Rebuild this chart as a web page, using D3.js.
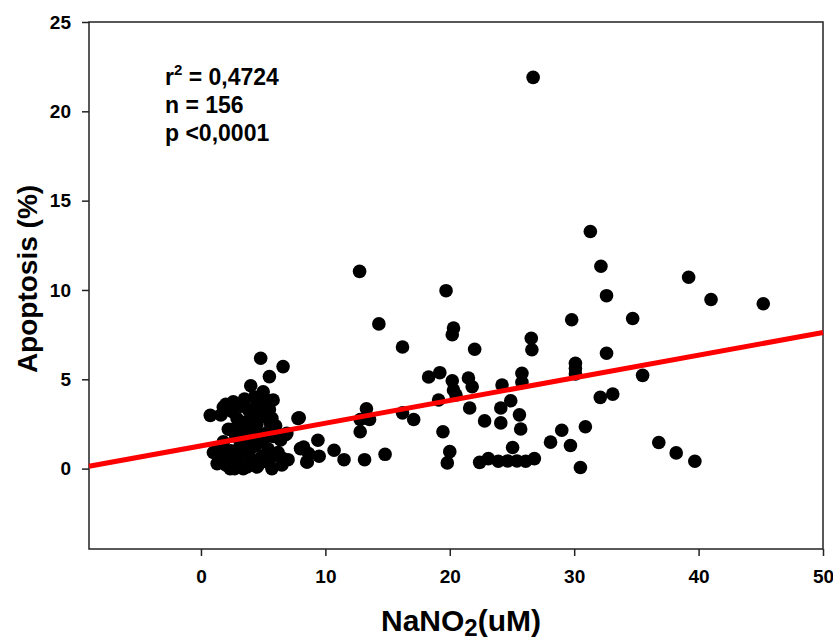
<!DOCTYPE html>
<html>
<head>
<meta charset="utf-8">
<script src="https://cdn.jsdelivr.net/npm/d3@7"></script>
<style>
  body { margin: 0; background: #fff; }
  svg { font-family: "Liberation Sans", Arial, sans-serif; font-weight: bold; }
</style>
</head>
<body>
<svg id="chart"></svg>
<script>
// NaNO2 concentration (uM) vs apoptosis (%)
const nano2 = [
  12.75, 19.7, 14.3, 20.3, 20.2, 16.2, 22.0, 26.55, 26.6, 18.3,
  19.2, 20.2, 21.5, 21.8, 20.3, 20.5, 19.1, 24.2, 25.8, 25.8,
  24.9, 24.1, 21.6, 25.6, 22.8, 24.1, 25.7, 16.2, 17.1, 13.3,
  12.8, 13.55, 12.8, 19.45, 7.9, 9.4, 8.25, 8.65, 9.5, 8.55,
  10.7, 11.5, 13.15, 14.8, 20.0, 19.8, 22.4, 23.1, 23.9, 24.65,
  25.05, 25.4, 26.1, 26.8, 28.1, 29.0,
  31.3, 32.15, 39.2, 32.6, 41.0, 45.2, 29.8, 34.7, 32.6, 30.1,
  30.1, 35.5, 32.1, 33.1, 29.7, 30.9, 30.5, 36.8, 38.2, 39.7,
  26.7, 30.1,
  4.8, 6.6, 5.5, 4.0, 5.0, 5.25, 5.8, 0.75, 1.8, 2.6,
  3.4, 4.0, 5.7, 7.8, 2.35, 6.9, 8.0, 1.3, 1.3, 2.35,
  3.4, 4.5, 5.7, 6.6, 8.5,
  1.5, 1.8, 2.0, 2.2, 2.4, 2.5, 2.6, 2.8, 2.9, 3.0,
  3.1, 3.2, 3.3, 3.4, 3.5, 3.6, 3.7, 3.8, 3.9, 4.0,
  4.1, 4.2, 4.3, 4.4, 4.5, 4.6, 4.7, 4.8, 4.9, 5.0,
  5.1, 5.2, 5.3, 5.4, 5.5, 5.6, 5.8, 6.0, 6.2, 6.4,
  1.6, 2.0, 2.8, 3.5, 2.3, 3.0, 4.3, 1.9, 6.8, 7.0,
  1.0, 2.7, 4.5, 5.6, 6.5
];
const apoptosis = [
  11.04, 9.96, 8.1, 7.87, 7.49, 6.81, 6.68, 7.3, 6.65, 5.13,
  5.37, 4.92, 5.07, 4.58, 4.4, 4.12, 3.84, 4.68, 5.34, 4.83,
  3.8, 3.39, 3.39, 3.01, 2.67, 2.56, 2.22, 3.12, 2.75, 3.35,
  2.75, 2.75, 2.06, 2.06, 2.85, 1.59, 1.21, 0.84, 0.69, 0.37,
  1.03, 0.5, 0.5, 0.8, 0.95, 0.32, 0.35, 0.56, 0.41, 0.43,
  1.18, 0.43, 0.41, 0.56, 1.48, 2.15,
  13.27, 11.33, 10.71, 9.68, 9.47, 9.23, 8.33, 8.4, 6.46, 5.9,
  5.3, 5.22, 3.99, 4.17, 1.29, 2.34, 0.06, 1.46, 0.88, 0.41,
  21.9, 5.6,
  6.18, 5.71, 5.15, 4.64, 4.3, 3.84, 3.84, 2.98, 3.43, 3.74,
  3.65, 3.1, 2.81, 2.81, 2.19, 1.97, 1.12, 1.03, 0.28, 0.0,
  0.0, 0.09, 0.0, 0.56, 0.37,
  0.5, 1.5, 0.2, 2.2, 1.0, 3.2, 0.6, 1.8, 2.8, 0.3,
  1.2, 3.5, 2.0, 0.8, 1.6, 2.6, 0.1, 3.3, 1.0, 2.2,
  0.5, 1.8, 3.0, 1.3, 2.5, 0.2, 1.9, 3.5, 0.7, 1.5,
  2.9, 0.4, 2.0, 1.1, 3.3, 0.6, 1.8, 2.4, 0.9, 1.6,
  3.0, 3.6, 3.6, 3.9, 0.1, 2.4, 4.0, 0.9, 1.9, 0.5,
  0.9, 0.0, 3.6, 2.5, 0.2
];
// regression line end points as drawn
const fitX = [-9, 50];
const fitY = [0.13, 7.62];
const xTicks = [0, 10, 20, 30, 40, 50];
const yTicks = [0, 5, 10, 15, 20, 25];
const statLines = ["= 0,4724", "n = 156", "p <0,0001"];

const width = 833, height = 643;
const margin = { top: 22, right: 10, bottom: 94, left: 89 };
const plotW = width - margin.left - margin.right;
const plotH = height - margin.top - margin.bottom;

const x = d3.scaleLinear().domain([-9, 50]).range([0, plotW]);
const y = d3.scaleLinear().domain([-4.5, 25]).range([plotH, 0]);

const svg = d3.select("#chart").attr("width", width).attr("height", height);
const g = svg.append("g").attr("transform", `translate(${margin.left},${margin.top})`);

// frame
g.append("rect")
  .attr("width", plotW).attr("height", plotH)
  .attr("fill", "none").attr("stroke", "#222").attr("stroke-width", 1.5);

// axes
const xAxis = g.append("g")
  .attr("transform", `translate(0,${plotH})`)
  .call(d3.axisBottom(x).tickValues(xTicks).tickSize(7).tickPadding(14));
const yAxis = g.append("g")
  .call(d3.axisLeft(y).tickValues(yTicks).tickSize(7).tickPadding(11));

[xAxis, yAxis].forEach(a => {
  a.select(".domain").remove();
  a.selectAll("line").attr("stroke", "#222").attr("stroke-width", 1.5);
  a.selectAll("text")
    .attr("fill", "#000")
    .style("font-size", "19px")
    .style("font-weight", "bold")
    .style("font-family", "'Liberation Sans', Arial, sans-serif");
});

// points
g.selectAll("circle.pt")
  .data(nano2.map((v, i) => [v, apoptosis[i]]))
  .enter().append("circle")
  .attr("class", "pt")
  .attr("cx", d => x(d[0]))
  .attr("cy", d => y(d[1]))
  .attr("r", 6.8)
  .attr("fill", "#000");

// fitted line
g.append("line")
  .attr("x1", x(fitX[0])).attr("y1", y(fitY[0]))
  .attr("x2", x(fitX[1])).attr("y2", y(fitY[1]))
  .attr("stroke", "#ff0000").attr("stroke-width", 5);

// stats text
const stats = svg.append("g").style("font-size", "23px");
const r2 = stats.append("text").attr("x", 165).attr("y", 85);
r2.append("tspan").text("r");
r2.append("tspan").attr("dy", -10).style("font-size", "15px").text("2");
r2.append("tspan").attr("dy", 10).text(" " + statLines[0]);
stats.append("text").attr("x", 165).attr("y", 113).text(statLines[1]);
stats.append("text").attr("x", 165).attr("y", 141).text(statLines[2]);

// axis titles
const xt = svg.append("text")
  .attr("x", 461).attr("y", 631)
  .attr("text-anchor", "middle")
  .style("font-size", "30px");
xt.append("tspan").text("NaNO");
xt.append("tspan").attr("dy", 5).style("font-size", "24px").text("2");
xt.append("tspan").attr("dy", -5).text("(uM)");

svg.append("text")
  .attr("transform", "translate(37,279) rotate(-90)")
  .attr("text-anchor", "middle")
  .style("font-size", "28px")
  .text("Apoptosis (%)");
</script>
</body>
</html>
